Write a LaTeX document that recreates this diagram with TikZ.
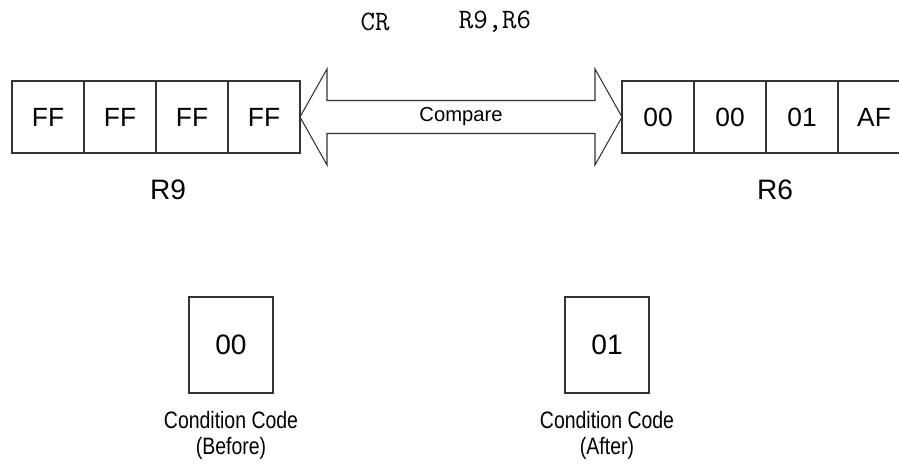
\documentclass[tikz,border=0pt]{standalone}
\usepackage{fontspec}
\setmainfont{Liberation Sans}
\begin{document}
\begin{tikzpicture}
    [x=0.02cm,y=-0.02cm,line width=0.6pt,
     byte/.style={draw=black!80,outer sep=0pt,minimum width=1.44cm,minimum height=1.44cm,font=\fontsize{15}{18}\selectfont},
     ccbox/.style={draw=black!80,outer sep=0pt,minimum width=1.68cm,minimum height=1.92cm,font=\fontsize{16}{19}\selectfont},
     reglabel/.style={font=\fontsize{16}{19}\selectfont},
     cclabel/.style={align=center,xscale=0.82,font=\fontsize{13.5}{14.5}\selectfont}]
		\useasboundingbox (0,0) rectangle (899,471);

		% instruction
		\node [font=\ttfamily\fontsize{16}{18}\selectfont] (op) at (375,22) {CR};
		\node [font=\ttfamily\fontsize{16}{18}\selectfont] (args) at (495,22) {R9,R6};

		% register R9
		\node [byte] (r9a) at (48,117) {FF};
		\node [byte] (r9b) at (120,117) {FF};
		\node [byte] (r9c) at (192,117) {FF};
		\node [byte] (r9d) at (264,117) {FF};
		\node [reglabel] (r9) at (168,190) {R9};

		% register R6
		\node [byte] (r6a) at (658,117) {00};
		\node [byte] (r6b) at (730,117) {00};
		\node [byte] (r6c) at (802,117) {01};
		\node [byte] (r6d) at (874,117) {AF};
		\node [reglabel] (r6) at (775,190) {R6};

		% double arrow between the registers
		\draw[draw=black!80] (r9d.east) -- ++(27,-48) -- ++(0,31.5) -- ++(268,0) -- ++(0,-31.5) -- (r6a.west)
			-- ++(-27,48) -- ++(0,-31.5) -- ++(-268,0) -- ++(0,31.5) -- cycle;
		\node [font=\fontsize{11.5}{13}\selectfont] (cmp) at (461,117) {Compare};

		% condition code
		\node [ccbox] (ccold) at (231,345) {00};
		\node [cclabel,anchor=north] (ccoldtext) at (231,405) {Condition Code\\(Before)};
		\node [ccbox] (ccnew) at (607,345) {01};
		\node [cclabel,anchor=north] (ccnewtext) at (607,405) {Condition Code\\(After)};
\end{tikzpicture}
\end{document}
